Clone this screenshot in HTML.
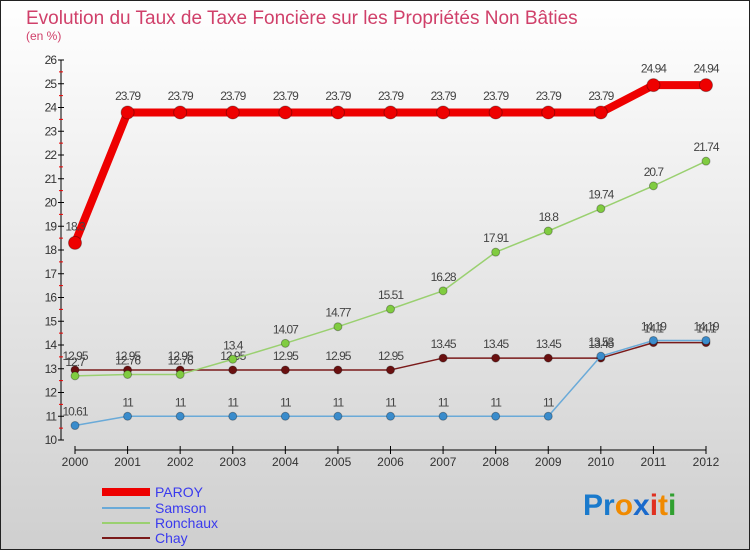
<!DOCTYPE html>
<html><head><meta charset="utf-8"><style>
body{margin:0;width:750px;height:550px;overflow:hidden;font-family:"Liberation Sans",sans-serif}
</style></head><body>
<svg width="750" height="550" xmlns="http://www.w3.org/2000/svg">
<defs><linearGradient id="bg" x1="0" y1="0" x2="0" y2="1"><stop offset="0" stop-color="#ffffff"/><stop offset="1" stop-color="#cfcfcf"/></linearGradient></defs>
<rect width="750" height="550" fill="url(#bg)"/>
<rect x="0.5" y="0.5" width="749" height="549" fill="none" stroke="#222"/>
<text x="26" y="24" font-size="19" fill="#d0406a">Evolution du Taux de Taxe Foncière sur les Propriétés Non Bâties</text>
<text x="26" y="40" font-size="12" fill="#d0406a">(en %)</text>
<g id="axes"></g><g id="series"></g><g id="legend"></g>
<text x="583" y="515" font-size="30" font-weight="bold"><tspan fill="#1a7acc">Pr</tspan><tspan fill="#f08a00">o</tspan><tspan fill="#1a6acc">x</tspan><tspan fill="#e03020">i</tspan><tspan fill="#f08a00">t</tspan><tspan fill="#30a030">i</tspan></text>
</svg>
<script>
const years=[2000,2001,2002,2003,2004,2005,2006,2007,2008,2009,2010,2011,2012];
const yTicks=[10,11,12,13,14,15,16,17,18,19,20,21,22,23,24,25,26];
const paroy=[18.3,23.79,23.79,23.79,23.79,23.79,23.79,23.79,23.79,23.79,23.79,24.94,24.94];
const samson=[10.61,11,11,11,11,11,11,11,11,11,13.53,14.19,14.19];
const ronchaux=[12.7,12.76,12.76,13.4,14.07,14.77,15.51,16.28,17.91,18.8,19.74,20.7,21.74];
const chay=[12.95,12.95,12.95,12.95,12.95,12.95,12.95,13.45,13.45,13.45,13.45,14.1,14.1];
const NS="http://www.w3.org/2000/svg";
const X=i=>75+i*(706-75)/12, Y=v=>440-(v-10)*23.75;
function mk(t,a,p){const e=document.createElementNS(NS,t);for(const k in a)e.setAttribute(k,a[k]);p.appendChild(e);return e;}
const ax=document.getElementById('axes');
let yl=mk('line',{x1:61,y1:60,x2:61,y2:440,stroke:'#000'},ax);


yTicks.forEach(v=>{
 mk('line',{x1:58,y1:Y(v),x2:64,y2:Y(v),stroke:'#000'},ax);
 if(v<26) mk('line',{x1:59,y1:Y(v+0.5),x2:63,y2:Y(v+0.5),stroke:'#e00'},ax);
 const t=mk('text',{x:56,y:Y(v)+4,'font-size':12,fill:'#333','text-anchor':'end','letter-spacing':'-1'},ax);t.textContent=v;
 
 
});
let xl=mk('line',{x1:75,y1:450,x2:706,y2:450,stroke:'#000'},ax);


years.forEach((y,i)=>{
 mk('line',{x1:X(i),y1:446,x2:X(i),y2:454,stroke:'#000'},ax);
 const t=mk('text',{x:X(i),y:466,'font-size':12,fill:'#333','text-anchor':'middle'},ax);t.textContent=y;
 
 
});
const sg=document.getElementById('series');
function series(name,data,color,w,r,dot,labelCol){
 const g=mk('g',{},sg);
 
 
 mk('polyline',{points:data.map((v,i)=>X(i)+','+Y(v)).join(' '),fill:'none',stroke:color,'stroke-width':w,'stroke-linejoin':'round'},g);
 data.forEach((v,i)=>{
  const c=mk('circle',{cx:X(i),cy:Y(v),r:r,fill:dot,stroke:'rgba(0,0,0,0.3)'},g);
  
  
  const t=mk('text',{x:X(i),y:Y(v)-(r+6),'font-size':12,fill:'#444','text-anchor':'middle','letter-spacing':'-1'},g);t.textContent=v;
 });
}
series('chay',chay,'#7a1a1a',1.5,4,'#6a1010');
series('ronchaux',ronchaux,'#9ad070',1.5,4,'#80cc40');
series('samson',samson,'#6aaad8',1.5,4,'#3a8ccc');
series('paroy',paroy,'#ee0000',8,6.5,'#ee0000');
const lg=document.getElementById('legend');
[['PAROY','#ee0000',8,492],['Samson','#6aaad8',2,508],['Ronchaux','#9ad070',2,523],['Chay','#7a1a1a',2,538]].forEach(([n,c,w,y])=>{
 const g=mk('g',{},lg);
 
 
 mk('line',{x1:102,y1:y,x2:150,y2:y,stroke:c,'stroke-width':w},g);
 const t=mk('text',{x:155,y:y+5,'font-size':14,fill:'#3a3aee'},g);t.textContent=n;
});
</script>
</body></html>
